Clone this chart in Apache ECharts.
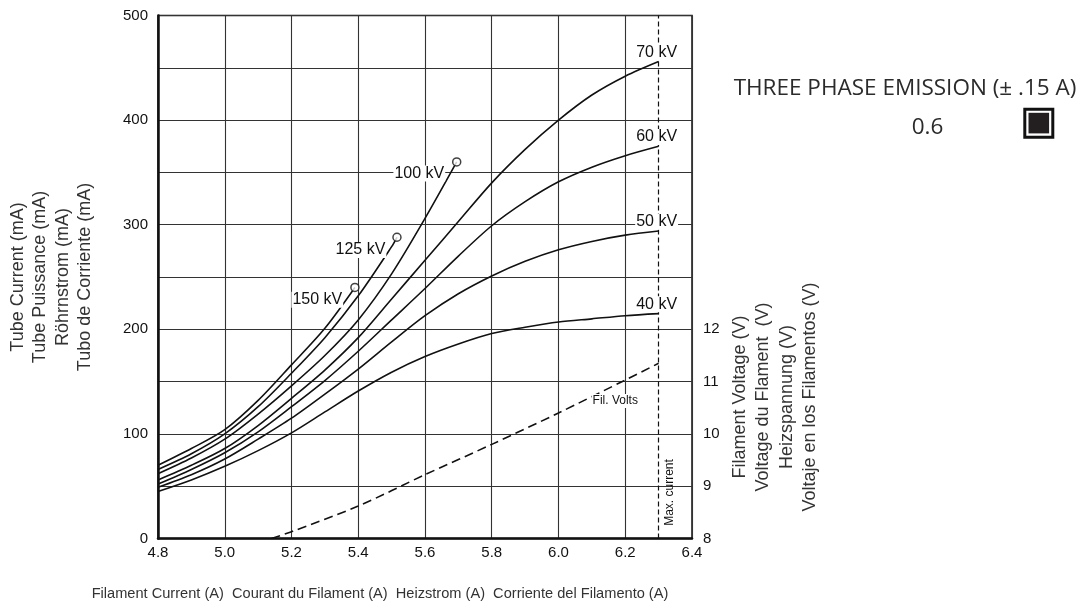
<!DOCTYPE html>
<html><head><meta charset="utf-8">
<script src="https://cdn.jsdelivr.net/npm/echarts@6/dist/echarts.min.js"></script>
<style>html,body{margin:0;padding:0;background:#fff}#c{width:1087px;height:606px}</style>
</head><body><div id="c"></div>
<script>
// Filament current (A) vs tube current (mA)
const kv150 = [[4.8,70],[4.9,86],[5.0,104],[5.1,132],[5.2,166],[5.3,201],[5.39,240]];
const kv125 = [[4.8,66],[4.9,81],[5.0,100],[5.1,126],[5.2,158],[5.3,192],[5.4,232],[5.5,279],[5.516,288]];
const kv100 = [[4.8,62],[4.9,77],[5.0,95],[5.1,119],[5.2,146],[5.3,175],[5.4,209],[5.5,253],[5.6,306],[5.695,360]];
const kv70  = [[4.8,56],[4.9,70],[5.0,86],[5.1,108],[5.2,134],[5.3,161],[5.4,192],[5.5,229],[5.6,266],[5.7,303],[5.8,340],[5.9,372],[6.0,400],[6.1,424],[6.2,442],[6.3,456]];
const kv60  = [[4.8,52],[4.9,66],[5.0,82],[5.1,102],[5.2,126],[5.3,151],[5.4,179],[5.5,209],[5.6,239],[5.7,270],[5.8,299],[5.9,322],[6.0,341],[6.1,355],[6.2,366],[6.3,375]];
const kv50  = [[4.8,49],[4.9,61],[5.0,76],[5.1,95],[5.2,115],[5.3,138],[5.4,162],[5.5,188],[5.6,213],[5.7,234],[5.8,251],[5.9,265],[6.0,276],[6.1,284],[6.2,290],[6.3,294]];
const kv40  = [[4.8,45],[4.9,56],[5.0,69],[5.1,84],[5.2,101],[5.3,121],[5.4,141],[5.5,159],[5.6,174],[5.7,186],[5.8,196],[5.9,202],[6.0,207],[6.1,210],[6.2,213],[6.3,215]];
// Filament voltage (V), right axis
const filVolts = [[5.14,8.0],[5.2,8.13],[5.4,8.62],[5.6,9.22],[5.8,9.8],[6.0,10.4],[6.2,11.03],[6.3,11.35]];
const maxCurrent = 6.3;
const seriesNames = ['150 kV','125 kV','100 kV','70 kV','60 kV','50 kV','40 kV'];
const seriesData = [kv150, kv125, kv100, kv70, kv60, kv50, kv40];
const leftTitle = 'Tube Current (mA)\nTube Puissance (mA)\nRöhrnstrom (mA)\nTubo de Corriente (mA)';
const rightTitle = 'Filament Voltage (V)\nVoltage du Flament  (V)\nHeizspannung (V)\nVoltaje en los Filamentos (V)';
const bottomTitle = 'Filament Current (A)  Courant du Filament (A)  Heizstrom (A)  Corriente del Filamento (A)';
const legendTitle = 'THREE PHASE EMISSION (± .15 A)';
const legendValue = '0.6';

const FONT = '"Liberation Sans", Arial, sans-serif';
const chart = echarts.init(document.getElementById('c'), null, {renderer:'canvas'});
const lineSeries = seriesData.map((d, i) => ({
  name: seriesNames[i], type:'line', data:d, smooth:0.3, symbol:'none',
  lineStyle:{color:'#111', width:1.6}, z:3, silent:true
}));
const endMarkers = [kv150, kv125, kv100].map(d => d[d.length-1]);

chart.setOption({
  animation:false,
  backgroundColor:'#fff',
  grid:{left:158, right:395, top:15.5, bottom:67.5, show:true, borderColor:'#111', borderWidth:1.5, containLabel:false},
  xAxis:{type:'value', min:4.8, max:6.4, interval:0.2,
    axisLine:{show:true, lineStyle:{color:'#111', width:2.5}}, axisTick:{show:false},
    axisLabel:{color:'#111', fontSize:15, fontFamily:FONT, margin:7, formatter:v=>v.toFixed(1)},
    splitLine:{show:true, lineStyle:{color:'#333', width:1.1}}},
  yAxis:[
    {type:'value', min:0, max:500, interval:50,
      axisLine:{show:true, lineStyle:{color:'#111', width:2.5}}, axisTick:{show:false},
      axisLabel:{color:'#111', fontSize:15, fontFamily:FONT, margin:10, formatter:v=> v%100===0 ? String(v) : ''},
      splitLine:{show:true, lineStyle:{color:'#333', width:1.1}}},
    {type:'value', min:8, max:18, interval:1, position:'right',
      axisLine:{show:false}, axisTick:{show:false}, splitLine:{show:false},
      axisLabel:{color:'#111', fontSize:15, fontFamily:FONT, margin:11, formatter:v=> v<=12 ? String(v) : ''}}
  ],
  series:[
    ...lineSeries,
    {name:'Fil. Volts', type:'line', yAxisIndex:1, data:filVolts, smooth:0.3, symbol:'none',
      lineStyle:{color:'#111', width:1.6, type:[9,5]}, z:3, silent:true,
      markLine:{silent:true, symbol:['none','none'], label:{show:false},
        lineStyle:{color:'#111', width:1.2, type:[5,3]}, data:[{xAxis:maxCurrent}]}},
    {type:'scatter', data:endMarkers, symbol:'circle', symbolSize:8, z:6, silent:true,
      itemStyle:{color:'#fff', borderColor:'#111', borderWidth:1.5}}
  ]
});

function px(pt, yIdx){ return chart.convertToPixel({xAxisIndex:0, yAxisIndex:yIdx||0}, pt); }
const g = [];
const txt = (x,y,text,opt) => g.push(Object.assign({type:'text', x:x, y:y, z:20,
  style:Object.assign({text:text, font:'15px '+FONT, fill:'#111', align:'center', verticalAlign:'middle'}, opt && opt.style || {})},
  opt && opt.rotation ? {rotation:opt.rotation} : {}));
// right-end labels
[[kv70,'70 kV'],[kv60,'60 kV'],[kv50,'50 kV'],[kv40,'40 kV']].forEach(([d,n])=>{
  const p = px(d[d.length-1]);
  txt(p[0]-2, p[1]-9.3, n, {style:{font:'16px '+FONT, backgroundColor:'#fff', padding:[0,1]}});
});
// steep curve labels
[[kv100,'100 kV',[-11.5,11.6]],[kv125,'125 kV',[-10.6,12.7]],[kv150,'150 kV',[-11.7,12.3]]].forEach(([d,n,o])=>{
  const p = px(d[d.length-1]);
  txt(p[0]+o[0], p[1]+o[1], n, {style:{font:'16px '+FONT, align:'right', backgroundColor:'#fff', padding:[0,1]}});
});
// Fil. Volts
const fv = px([6.17, 10.63], 1);
txt(fv[0], fv[1], 'Fil. Volts', {style:{font:'12px '+FONT, backgroundColor:'#fff', padding:[1,1]}});
// Max. current
const mc = px([maxCurrent, 0]);
txt(mc[0]+11, mc[1]-46, 'Max. current', {rotation:Math.PI/2, style:{font:'12px '+FONT}});
// axis titles
txt(51.5, 277, leftTitle, {rotation:Math.PI/2, style:{font:'18px '+FONT, fill:'#333', lineHeight:22.2}});
txt(775, 397, rightTitle, {rotation:Math.PI/2, style:{font:'18px '+FONT, fill:'#333', lineHeight:23.4}});
txt(380, 594, bottomTitle, {style:{font:'14.6px '+FONT, fill:'#333'}});
// legend
txt(905, 89, legendTitle, {style:{font:'22.5px "Open Sans", '+FONT, fill:'#2b2b2b'}});
txt(927.5, 128, legendValue, {style:{font:'22.5px "Open Sans", '+FONT, fill:'#2b2b2b'}});
g.push({type:'rect', shape:{x:1024.8, y:109.2, width:28, height:28}, style:{fill:'#fff', stroke:'#111', lineWidth:3}, z:20});
g.push({type:'rect', shape:{x:1028.5, y:112.8, width:20.6, height:20.6}, style:{fill:'#231f20'}, z:21});
chart.setOption({graphic:g});
</script></body></html>
